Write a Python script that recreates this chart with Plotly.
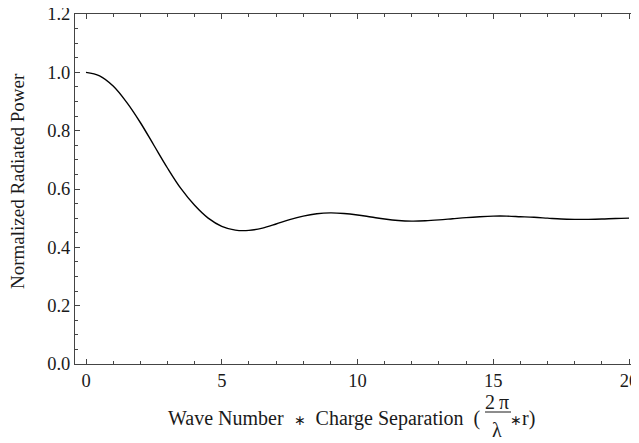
import plotly.graph_objects as go

# Data
x_vals = [0, 0.5, 1, 1.5, 2, 2.5, 3, 3.5, 4, 4.5, 5, 5.5, 6, 6.5, 7, 7.5, 8, 8.5, 9, 9.5,
          10, 10.5, 11, 11.5, 12, 12.5, 13, 13.5, 14, 14.5, 15, 15.5, 16, 16.5, 17, 17.5,
          18, 18.5, 19, 19.5, 20]
power = [1.000, 0.988, 0.953, 0.897, 0.828, 0.750, 0.672, 0.601, 0.544, 0.500, 0.472,
         0.459, 0.458, 0.466, 0.480, 0.495, 0.507, 0.515, 0.518, 0.516, 0.511, 0.504,
         0.497, 0.492, 0.490, 0.491, 0.494, 0.498, 0.502, 0.505, 0.507, 0.507, 0.505,
         0.503, 0.500, 0.497, 0.496, 0.496, 0.497, 0.499, 0.500]
x_ticks = [0, 5, 10, 15, 20]
y_ticks = [0.0, 0.2, 0.4, 0.6, 0.8, 1.0, 1.2]
y_tick_text = ["0.0", "0.2", "0.4", "0.6", "0.8", "1.0", "1.2"]
y_title = "Normalized Radiated Power"
STAR = "<span style='font-size:14px'>\u2217</span>"
x_title_main = "Wave Number  " + STAR + "  Charge Separation  ("
x_title_num = "2\u2009\u03c0"
x_title_den = "\u03bb"
x_title_tail = STAR + "r)"

# the page body adds an 8px offset; work in screen pixels and subtract it
OFF = 8
W, H = 639 - OFF, 443 - OFF
L, R, T, B = 75 - OFF, 1, 14 - OFF, 79
pw, ph = W - L - R, H - T - B


def px(xp):
    return (xp - OFF - L) / pw


def py(yp):
    return (H - B - (yp - OFF)) / ph


FONT = "Liberation Serif, Times New Roman, serif"
AX = "#444444"
TXT = "#1a1a1a"

fig = go.Figure()
fig.add_trace(go.Scatter(x=x_vals, y=power, mode="lines",
                         line=dict(color="black", width=1.4, shape="spline"),
                         showlegend=False, hoverinfo="skip"))

common = dict(showgrid=False, zeroline=False, showline=True, linecolor=AX, linewidth=1,
              mirror="allticks", ticks="inside", ticklen=5, tickwidth=1, tickcolor=AX,
              automargin=False, ticklabeloverflow="allow",
              tickfont=dict(family=FONT, size=18.5, color=TXT))

fig.update_xaxes(range=[-0.405, 20.33], tickvals=x_ticks,
                 minor=dict(dtick=1, ticks="inside", ticklen=3, tickcolor=AX, tickwidth=1),
                 **common)
fig.update_yaxes(range=[0, 1.2], tickvals=y_ticks, ticktext=y_tick_text,
                 minor=dict(dtick=0.05, ticks="inside", ticklen=3, tickcolor=AX, tickwidth=1),
                 **common)

ann_font = dict(family=FONT, size=20, color=TXT)
fig.add_annotation(text=y_title, xref="paper", yref="paper", x=px(18), y=py(181),
                   textangle=-90, showarrow=False, font=dict(family=FONT, size=19, color=TXT),
                   xanchor="center", yanchor="middle")
fig.add_annotation(text=x_title_main, xref="paper", yref="paper", x=px(482), y=py(418),
                   showarrow=False, font=ann_font, xanchor="right", yanchor="middle")
fig.add_annotation(text=x_title_num, xref="paper", yref="paper", x=px(497), y=py(402),
                   showarrow=False, font=ann_font, xanchor="center", yanchor="middle")
fig.add_annotation(text=x_title_den, xref="paper", yref="paper", x=px(497), y=py(430),
                   showarrow=False, font=ann_font, xanchor="center", yanchor="middle")
fig.add_annotation(text=x_title_tail, xref="paper", yref="paper", x=px(508), y=py(418),
                   showarrow=False, font=ann_font, xanchor="left", yanchor="middle")
fig.add_shape(type="line", xref="paper", yref="paper", x0=px(485), x1=px(511),
              y0=py(412), y1=py(412), line=dict(color=TXT, width=1))

fig.update_layout(width=W, height=H, margin=dict(l=L, r=R, t=T, b=B),
                  paper_bgcolor="white", plot_bgcolor="white")

fig.write_html("out.html")
